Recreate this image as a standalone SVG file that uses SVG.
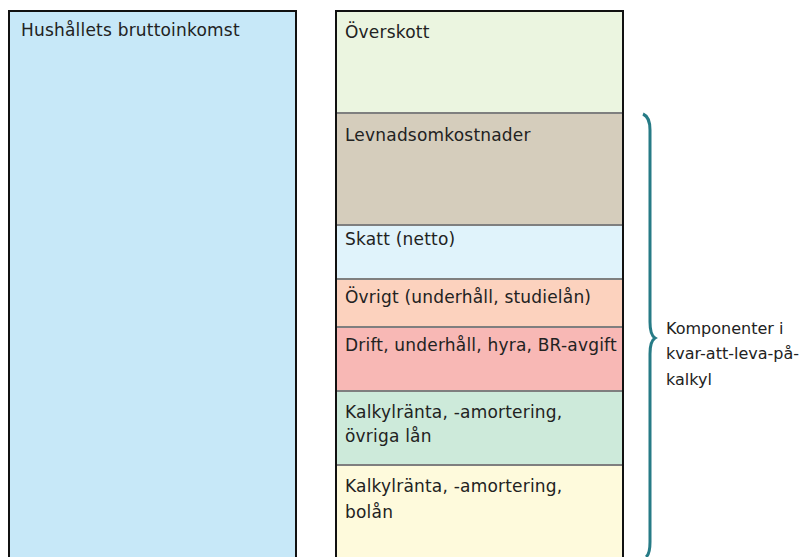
<svg xmlns="http://www.w3.org/2000/svg" width="808" height="557" viewBox="0 0 808 557">
<style>
.t{font-family:"DejaVu Sans","Liberation Sans",sans-serif;font-size:17px;letter-spacing:0.2px;fill:#222}
.lb{font-family:"DejaVu Sans","Liberation Sans",sans-serif;font-size:16px;fill:#222}
.seg{stroke:none}
.div{stroke:#7f7f7f;stroke-width:2}
.outer{fill:none;stroke:#111;stroke-width:2}
</style>
<rect width="808" height="557" fill="#fff"/>
<g id="brutto">
<rect x="9" y="11" width="287" height="556" fill="#c7e8f8" stroke="#111" stroke-width="2"/>
<text class="t" x="21" y="36">Hushållets bruttoinkomst</text>
</g>
<g id="overskott">
<rect class="seg" x="336" y="11" width="287" height="102" fill="#ebf5e0"/>
<text class="t" x="345" y="38">Överskott</text>
</g>
<g id="levnad">
<rect class="seg" x="336" y="113" width="287" height="112" fill="#d5cdbc"/>
<text class="t" x="345" y="141">Levnadsomkostnader</text>
</g>
<g id="skatt">
<rect class="seg" x="336" y="225" width="287" height="54" fill="#e0f3fb"/>
<text class="t" x="345" y="245">Skatt (netto)</text>
</g>
<g id="ovrigt">
<rect class="seg" x="336" y="279" width="287" height="48" fill="#fcd2be"/>
<text class="t" x="345" y="303">Övrigt (underhåll, studielån)</text>
</g>
<g id="drift">
<rect class="seg" x="336" y="327" width="287" height="64" fill="#f8b8b5"/>
<text class="t" x="345" y="351">Drift, underhåll, hyra, BR-avgift</text>
</g>
<g id="kalkyl-ovriga">
<rect class="seg" x="336" y="391" width="287" height="74" fill="#cdeada"/>
<text class="t" x="345" y="418">Kalkylränta, -amortering,</text>
<text class="t" x="345" y="442">övriga lån</text>
</g>
<g id="kalkyl-bolan">
<rect class="seg" x="336" y="465" width="287" height="102" fill="#fefadc"/>
<text class="t" x="345" y="492">Kalkylränta, -amortering,</text>
<text class="t" x="345" y="518">bolån</text>
</g>
<g id="connectors">
<line class="div" x1="336" y1="113" x2="623" y2="113"/>
<line class="div" x1="336" y1="225" x2="623" y2="225"/>
<line class="div" x1="336" y1="279" x2="623" y2="279"/>
<line class="div" x1="336" y1="327" x2="623" y2="327"/>
<line class="div" x1="336" y1="391" x2="623" y2="391"/>
<line class="div" x1="336" y1="465" x2="623" y2="465"/>
<rect class="outer" x="336" y="11" width="287" height="556"/>
<path d="M643 114 Q650 117 650 130 L650 322 Q650 335 655 338 Q650 341 650 354 L650 542 Q650 554 646 557" fill="none" stroke="#267b86" stroke-width="3"/>
</g>
<g id="label">
<text class="lb" x="666" y="334">Komponenter i</text>
<text class="lb" x="666" y="359">kvar-att-leva-på-</text>
<text class="lb" x="666" y="385">kalkyl</text>
</g>
</svg>
